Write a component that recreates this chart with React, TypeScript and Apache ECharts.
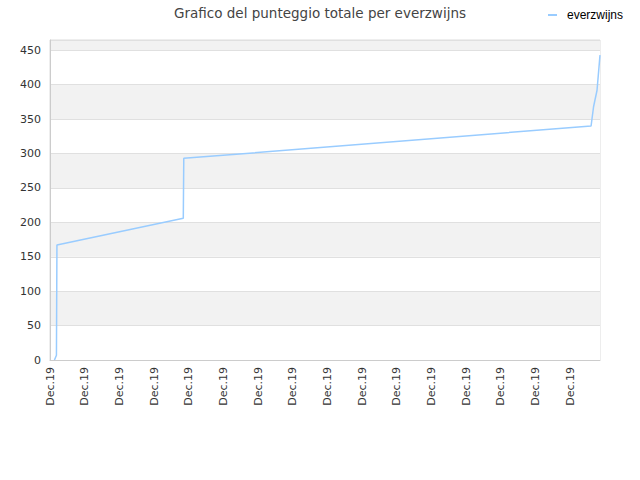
import * as echarts from "echarts";
import { useEffect, useRef } from "react";

const chartTitle = "Grafico del punteggio totale per everzwijns";
const playerName = "everzwijns";

// position along the x axis (sample index) and total score at that point
const sampleIndex = [0.9, 1.3, 1.4, 26.9, 27.0, 109.2, 109.7, 110.4, 111];
const totalScore = [0, 7, 167, 206, 293, 340, 368, 392, 443];

// one label every 7 samples
const tickLabels = [
  "Dec.19", "Dec.19", "Dec.19", "Dec.19", "Dec.19", "Dec.19", "Dec.19", "Dec.19",
  "Dec.19", "Dec.19", "Dec.19", "Dec.19", "Dec.19", "Dec.19", "Dec.19", "Dec.19",
];
const tickStep = 7;
const lastSample = 111;

const scoreMax = 465;
const scoreStep = 50;

export default function App() {
  const chartRef = useRef<HTMLDivElement | null>(null);

  useEffect(() => {
    if (!chartRef.current) return;
    const chart = echarts.init(chartRef.current, undefined, { renderer: "svg" });

    const option: echarts.EChartsOption = {
      animation: false,
      backgroundColor: "#ffffff",
      title: {
        text: chartTitle,
        left: "center",
        top: 1,
        textStyle: {
          fontFamily: "DejaVu Sans",
          fontSize: 13.5,
          fontWeight: "normal",
          color: "#444",
        },
      },
      legend: {
        right: 12,
        top: 4,
        icon: "rect",
        itemWidth: 9,
        itemHeight: 2,
        itemGap: 6,
        textStyle: {
          fontFamily: "Liberation Sans",
          fontSize: 12,
          color: "#000",
          padding: [0, 0, 0, 5],
        },
        data: [playerName],
      },
      grid: {
        left: 50,
        right: 40,
        top: 40,
        bottom: 120,
        show: true,
        borderColor: "#dcdcdc",
        borderWidth: 1,
      },
      xAxis: {
        type: "value",
        min: 0,
        max: lastSample,
        interval: tickStep,
        axisLine: { show: true, lineStyle: { color: "#cccccc" } },
        axisTick: { show: false },
        splitLine: { show: false },
        axisLabel: {
          rotate: 90,
          margin: 7,
          fontFamily: "DejaVu Sans",
          fontSize: 11,
          color: "#333",
          showMaxLabel: false,
          formatter: (v: number) =>
            v % tickStep === 0 ? tickLabels[v / tickStep] ?? "" : "",
        },
      },
      yAxis: {
        type: "value",
        min: 0,
        max: scoreMax,
        interval: scoreStep,
        axisLine: { show: true, lineStyle: { color: "#cccccc" } },
        axisTick: { show: false },
        axisLabel: {
          margin: 9,
          fontFamily: "DejaVu Sans",
          fontSize: 11,
          color: "#333",
          showMaxLabel: false,
        },
        splitLine: { show: true, lineStyle: { color: "#e0e0e0" } },
        splitArea: {
          show: true,
          areaStyle: { color: ["#ffffff", "#f2f2f2"] },
        },
      },
      series: [
        {
          name: playerName,
          type: "line",
          color: "#99ccff",
          showSymbol: false,
          symbol: "none",
          lineStyle: { color: "#99ccff", width: 1.5 },
          data: sampleIndex.map((x, i) => [x, totalScore[i]]),
        },
      ],
    };

    chart.setOption(option);
    return () => {
      chart.dispose();
    };
  }, []);

  return (
    <div
      ref={chartRef}
      style={{ position: "fixed", left: 0, top: 0, width: 640, height: 480 }}
    />
  );
}
